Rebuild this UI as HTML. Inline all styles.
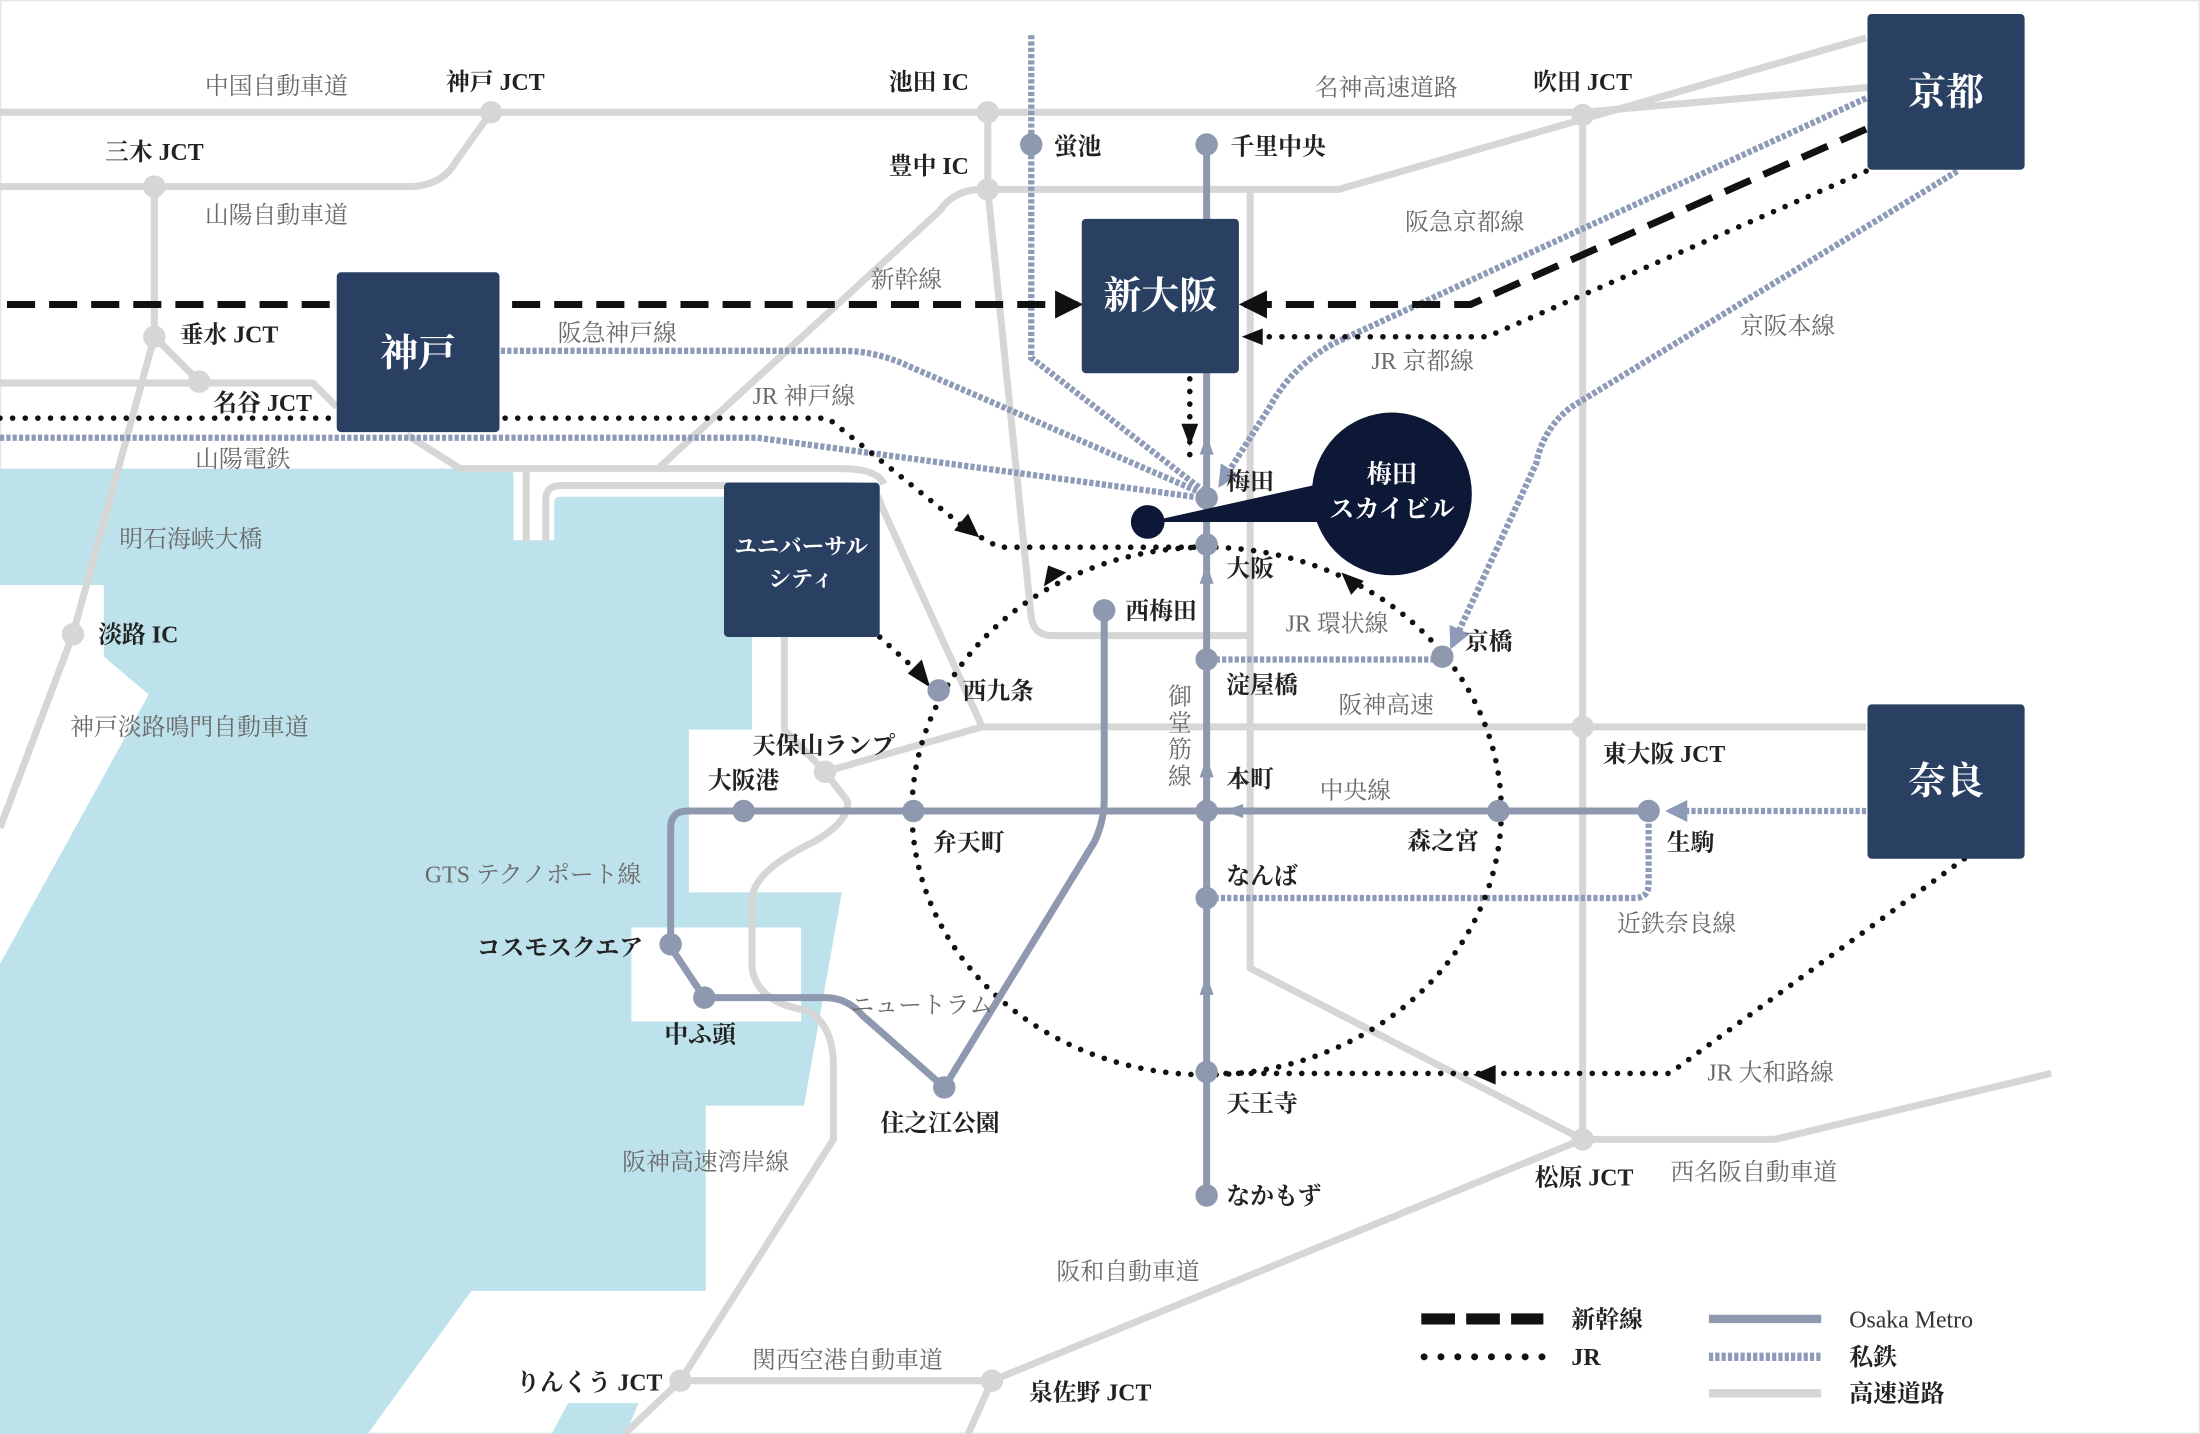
<!DOCTYPE html>
<html><head><meta charset="utf-8"><style>
html,body{margin:0;padding:0;background:#fff;}
svg{display:block}
text{font-family:"Liberation Serif","Noto Serif CJK SC","Noto Sans CJK JP",serif;font-size:17px;}
.g{fill:#6a6a6a}
.k{fill:#222;font-weight:bold}
.w{fill:#fff;font-weight:bold}
</style></head><body>
<svg width="2200" height="1434" viewBox="0 0 1568 1022" preserveAspectRatio="none" xmlns="http://www.w3.org/2000/svg">
<defs>
<marker id="ab" viewBox="0 0 10 10" refX="8" refY="5" markerWidth="4" markerHeight="4" orient="auto"><path d="M0,0L10,5L0,10z" fill="#111"/></marker>
<marker id="ap" viewBox="0 0 10 10" refX="8" refY="5" markerWidth="3.5" markerHeight="3.5" orient="auto"><path d="M0,0L10,5L0,10z" fill="#8e9bb8"/></marker>
</defs>
<rect x="0" y="0" width="1568" height="1022" fill="#fff"/>
<rect x="0.5" y="0.5" width="1567" height="1021" fill="none" stroke="#e6e6e6"/>
<!-- water -->
<path d="M0,334 H362 Q366,334 366,340 V385 H395 V358 Q395,354 400,354 H536 V520 H491 V636 H600 L573,788 H503 V920 H336 L262,1022 H0 Z" fill="#bde2eb"/>
<path d="M0,417 H74 V468 L106,495 L0,687 Z" fill="#fff"/>
<rect x="450" y="661" width="121" height="67" fill="#fff"/>
<path d="M393,1022 L405,1000 H455 L446,1022 Z" fill="#bde2eb"/>
<!-- highways -->
<g fill="none" stroke="#d6d6d6" stroke-width="5" stroke-linejoin="round">
<path d="M0,80 H1128 L1335,62"/>
<path d="M0,133 H290 Q315,133 325,115 L350,80"/>
<path d="M110,133 V240 L52,452 L0,590"/>
<path d="M110,240 L142,272"/>
<path d="M0,273 H223 L240,290"/>
<path d="M290,310 L328,334 H600 Q625,334 630,345"/>
<path d="M469,334 L670,150 Q680,135 700,135"/>
<path d="M375,334 V386"/>
<path d="M389,386 V356 Q389,346 400,346 H605 Q625,346 628,360 L700,518"/>
<path d="M559,454 V520 L588,550 L604,571 Q606,585 580,600 Q538,620 536,640 V690 Q540,715 575,720 Q594,730 594,760 V812 L485,984 L445,1022"/>
<path d="M588,550 L700,518 H1330"/>
<path d="M704,80 V135 L735,440 Q737,453 750,453 H890"/>
<path d="M704,135 H954 L1330,27"/>
<path d="M891,136 V690 L1128,812"/>
<path d="M1128,80 V812"/>
<path d="M1128,812 H1265 L1462,765"/>
<path d="M1128,812 L707,984 L690,1022"/>
<path d="M485,984 H707"/>
</g>
<g fill="#d6d6d6">
<circle cx="350" cy="80" r="8"/><circle cx="704" cy="80" r="8"/><circle cx="1128" cy="82" r="8"/>
<circle cx="110" cy="133" r="8"/><circle cx="704" cy="135" r="8"/><circle cx="110" cy="240" r="8"/>
<circle cx="142" cy="272" r="8"/><circle cx="52" cy="452" r="8"/><circle cx="588" cy="550" r="8"/>
<circle cx="1128" cy="518" r="8"/><circle cx="1128" cy="812" r="8"/><circle cx="485" cy="984" r="8"/><circle cx="707" cy="984" r="8"/>
</g>
<!-- private rail -->
<g fill="none" stroke="#8e9bb8" stroke-width="4.5" stroke-dasharray="3 1.5">
<path d="M357,250 H600 Q625,250 650,262 L858,352"/>
<path d="M0,312 H540 L858,355"/>
<path d="M735,25 V255 L858,350"/>
<path d="M1330,70 L950,245 Q920,262 905,290 L870,345" marker-end="url(#ap)"/>
<path d="M1395,122 L1120,290 Q1100,305 1095,330 L1035,460" marker-end="url(#ap)"/>
<path d="M862,470 H1028"/>
<path d="M1330,578 H1190" marker-end="url(#ap)"/>
<path d="M1175,578 V630 Q1175,640 1165,640 H862"/>
</g>
<!-- shinkansen -->
<g fill="none" stroke="#111" stroke-width="5" stroke-dasharray="20 10">
<path d="M5,217 H768" marker-end="url(#ab)"/>
<path d="M1330,92 L1048,217 H887" marker-end="url(#ab)"/>
</g>
<!-- JR -->
<g fill="none" stroke="#111" stroke-width="4" stroke-linecap="round" stroke-dasharray="0 9">
<ellipse cx="860" cy="578" rx="210" ry="188"/>
<path d="M0,298 H590 L690,378 L712,390 H860"/>
<path d="M627,454 L660,484"/>
<path d="M848,270 V330"/>
<path d="M1330,122 L1060,240 H890"/>
<path d="M1400,612 L1190,765 H860"/>
</g>
<g fill="#111">
<path d="M698,383 L680,378 L690,366 Z"/>
<path d="M663,490 L647,480 L657,470 Z"/>
<path d="M848,318 L842,302 L854,302 Z"/>
<path d="M885,240 L900,234 L900,246 Z"/>
<path d="M1050,766 L1066,759 L1066,773 Z"/>
<path d="M760,408 L744,418 L747,403 Z"/>
<path d="M956,408 L972,414 L963,424 Z"/>
</g>
<!-- metro -->
<g fill="none" stroke="#8e99b0" stroke-width="5" stroke-linejoin="round">
<path d="M860,103 V852"/>
<path d="M478,675 V590 Q478,578 490,578 H1175"/>
<path d="M478,675 L502,711 H588 Q604,711 615,724 L673,775 L780,600 Q787,585 787,570 V435"/>
</g>
<g fill="#8e99b0">
<path d="M860,310 L855,324 H865Z"/><path d="M860,402 L855,416 H865Z"/><path d="M860,540 L855,554 H865Z"/><path d="M860,695 L855,709 H865Z"/>
<path d="M872,578 L886,573 V583Z"/>
<circle cx="735" cy="103" r="8"/><circle cx="860" cy="103" r="8"/><circle cx="860" cy="355" r="8"/><circle cx="860" cy="388" r="8"/>
<circle cx="787" cy="435" r="8"/><circle cx="860" cy="470" r="8"/><circle cx="1028" cy="468" r="8"/><circle cx="669" cy="492" r="8"/>
<circle cx="530" cy="578" r="8"/><circle cx="651" cy="578" r="8"/><circle cx="860" cy="578" r="8"/><circle cx="1068" cy="578" r="8"/><circle cx="1175" cy="578" r="8"/>
<circle cx="860" cy="640" r="8"/><circle cx="478" cy="673" r="8"/><circle cx="502" cy="711" r="8"/><circle cx="673" cy="775" r="8"/>
<circle cx="860" cy="764" r="8"/><circle cx="860" cy="852" r="8"/>
</g>
<!-- boxes -->
<g fill="#2a4063">
<rect x="240" y="194" width="116" height="114" rx="3"/>
<rect x="771" y="156" width="112" height="110" rx="3"/>
<rect x="1331" y="10" width="112" height="111" rx="3"/>
<rect x="1331" y="502" width="112" height="110" rx="3"/>
<rect x="516" y="344" width="111" height="110" rx="3"/>
</g>
<text x="298" y="261" class="w" style="font-size:27px" text-anchor="middle">神戸</text>
<text x="827" y="220" class="w" style="font-size:27px" text-anchor="middle">新大阪</text>
<text x="1387" y="75" class="w" style="font-size:27px" text-anchor="middle">京都</text>
<text x="1387" y="566" class="w" style="font-size:27px" text-anchor="middle">奈良</text>
<text x="571" y="395" class="w" style="font-size:16px" text-anchor="middle">ユニバーサル</text>
<text x="571" y="418" class="w" style="font-size:16px" text-anchor="middle">シティ</text>
<!-- sky building -->
<path d="M818,372 L940,345 L945,372 Z" fill="#0d1736"/>
<circle cx="818" cy="372" r="12" fill="#0d1736"/>
<ellipse cx="992" cy="352" rx="57" ry="58" fill="#0d1736"/>
<text x="992" y="344" class="w" style="font-size:18px" text-anchor="middle">梅田</text>
<text x="992" y="369" class="w" style="font-size:18px" text-anchor="middle">スカイビル</text>
<!-- labels -->
<g text-anchor="middle">
<text x="197" y="67" class="g">中国自動車道</text>
<text x="353" y="64" class="k">神戸 JCT</text>
<text x="662" y="64" class="k">池田 IC</text>
<text x="988" y="68" class="g">名神高速道路</text>
<text x="1128" y="64" class="k">吹田 JCT</text>
<text x="110" y="114" class="k">三木 JCT</text>
<text x="662" y="124" class="k">豊中 IC</text>
<text x="197" y="159" class="g">山陽自動車道</text>
<text x="1044" y="164" class="g">阪急京都線</text>
<text x="646" y="205" class="g">新幹線</text>
<text x="440" y="243" class="g">阪急神戸線</text>
<text x="1274" y="238" class="g">京阪本線</text>
<text x="1014" y="263" class="g">JR 京都線</text>
<text x="573" y="288" class="g">JR 神戸線</text>
<text x="173" y="333" class="g">山陽電鉄</text>
<text x="136" y="390" class="g">明石海峡大橋</text>
<text x="953" y="450" class="g">JR 環状線</text>
<text x="988" y="508" class="g">阪神高速</text>
<text x="135" y="524" class="g">神戸淡路鳴門自動車道</text>
<text x="587" y="537" class="k">天保山ランプ</text>
<text x="1186" y="543" class="k">東大阪 JCT</text>
<text x="530" y="562" class="k">大阪港</text>
<text x="966" y="569" class="g">中央線</text>
<text x="380" y="629" class="g">GTS テクノポート線</text>
<text x="1195" y="664" class="g">近鉄奈良線</text>
<text x="399" y="681" class="k">コスモスクエア</text>
<text x="657" y="722" class="g">ニュートラム</text>
<text x="499" y="743" class="k">中ふ頭</text>
<text x="1262" y="770" class="g">JR 大和路線</text>
<text x="670" y="806" class="k">住之江公園</text>
<text x="1129" y="845" class="k">松原 JCT</text>
<text x="1250" y="841" class="g">西名阪自動車道</text>
<text x="503" y="834" class="g">阪神高速湾岸線</text>
<text x="804" y="912" class="g">阪和自動車道</text>
<text x="604" y="975" class="g">関西空港自動車道</text>
<text x="420" y="991" class="k">りんくう JCT</text>
<text x="777" y="998" class="k">泉佐野 JCT</text>
</g>
<g>
<text x="751" y="110" class="k">蛍池</text>
<text x="877" y="110" class="k">千里中央</text>
<text x="128" y="244" class="k">垂水 JCT</text>
<text x="152" y="293" class="k">名谷 JCT</text>
<text x="874" y="349" class="k">梅田</text>
<text x="874" y="411" class="k">大阪</text>
<text x="802" y="441" class="k">西梅田</text>
<text x="70" y="458" class="k">淡路 IC</text>
<text x="1044" y="463" class="k">京橋</text>
<text x="874" y="494" class="k">淀屋橋</text>
<text x="686" y="498" class="k">西九条</text>
<text x="874" y="561" class="k">本町</text>
<text x="665" y="606" class="k">弁天町</text>
<text x="1003" y="605" class="k">森之宮</text>
<text x="1188" y="606" class="k">生駒</text>
<text x="874" y="630" class="k">なんば</text>
<text x="874" y="792" class="k">天王寺</text>
<text x="874" y="858" class="k">なかもず</text>
</g>
<g class="g" text-anchor="middle" style="font-size:16px">
<text x="841" y="502" class="g">御</text><text x="841" y="521" class="g">堂</text><text x="841" y="540" class="g">筋</text><text x="841" y="559" class="g">線</text>
</g>
<!-- legend -->
<path d="M1013,940 H1100" stroke="#111" stroke-width="8" stroke-dasharray="24 8" fill="none"/>
<path d="M1015,967 H1100" stroke="#111" stroke-width="5" stroke-linecap="round" stroke-dasharray="0 12" fill="none"/>
<path d="M1218,940 H1298" stroke="#8e99b0" stroke-width="6" fill="none"/>
<path d="M1218,967 H1298" stroke="#8e9bb8" stroke-width="6" stroke-dasharray="3 1.5" fill="none"/>
<path d="M1218,993 H1298" stroke="#d6d6d6" stroke-width="6" fill="none"/>
<text x="1120" y="946" class="k">新幹線</text>
<text x="1120" y="973" class="k">JR</text>
<text x="1318" y="946" class="k" style="font-weight:normal;fill:#333">Osaka Metro</text>
<text x="1318" y="973" class="k">私鉄</text>
<text x="1318" y="999" class="k">高速道路</text>
</svg>
</body></html>
